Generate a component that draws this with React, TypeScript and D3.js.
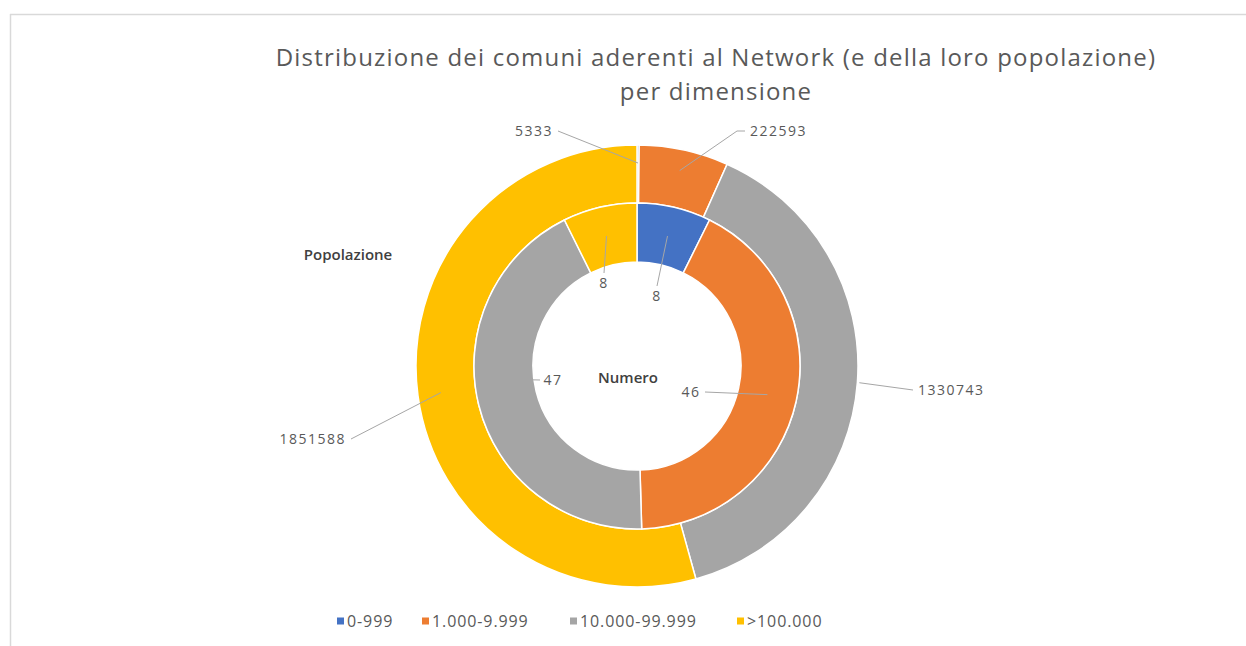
import React from 'react';
import * as d3 from 'd3';

// ---- data ----
const categories = ['0-999', '1.000-9.999', '10.000-99.999', '>100.000'];
const numeroValues = [8, 46, 47, 8];
const popolazioneValues = [5333, 222593, 1330743, 1851588];
const seriesColors = ['#4472C4', '#ED7D31', '#A5A5A5', '#FFC000'];
const titleLines = [
  'Distribuzione dei comuni aderenti al Network (e della loro popolazione)',
  'per dimensione',
];
const ringNames = ['Popolazione', 'Numero'];

// ---- layout (not data) ----
const W = 1246;
const H = 646;
const CX = 637;
const CY = 366;
const R_OUT = 221;
const R_MID = 163;
const R_IN = 104;

type LabelLayout = { lx: number; ly: number; anchor: string; endR: number; endAngleDeg?: number; elbow?: number };
const outerLabelLayout: LabelLayout[] = [
  { lx: -84, ly: -235, anchor: 'end', endR: 203 },
  { lx: 113, ly: -235, anchor: 'start', endR: 200, elbow: -8 },
  { lx: 281, ly: 24, anchor: 'start', endR: 223 },
  { lx: -291, ly: 73, anchor: 'end', endR: 198 },
];
const innerLabelLayout: LabelLayout[] = [
  { lx: 20, ly: -70, anchor: 'middle', endR: 133.5 },
  { lx: 54, ly: 26, anchor: 'middle', endR: 133.5 },
  { lx: -84, ly: 14, anchor: 'middle', endR: 106, endAngleDeg: 262.5 },
  { lx: -33, ly: -83, anchor: 'middle', endR: 133.5 },
];

function ring(values: number[], inner: number, outer: number, layout: LabelLayout[]) {
  const pie = d3.pie<number>().sort(null).value((d) => d);
  const arcs = pie(values);
  const arcGen = d3.arc<d3.PieArcDatum<number>>().innerRadius(inner).outerRadius(outer);
  return arcs.map((a, i) => {
    const L = layout[i];
    const mid = L.endAngleDeg !== undefined ? (L.endAngleDeg * Math.PI) / 180 : (a.startAngle + a.endAngle) / 2;
    const ex = L.endR * Math.sin(mid);
    const ey = -L.endR * Math.cos(mid);
    return { a, i, path: arcGen(a) as string, L, ex, ey };
  });
}

export default function App() {
  const outer = ring(popolazioneValues, R_MID, R_OUT, outerLabelLayout);
  const inner = ring(numeroValues, R_IN, R_MID, innerLabelLayout);
  const labelFont = '"Open Sans", sans-serif';

  const renderLabels = (items: ReturnType<typeof ring>, values: number[]) =>
    items.map(({ i, L, ex, ey }) => {
      const text = String(values[i]);
      let sx = L.lx;
      let sy = L.ly;
      let pts: [number, number][] = [];
      if (L.anchor === 'end') {
        sx = L.lx + 5;
        pts = [[sx, sy], [ex, ey]];
      } else if (L.anchor === 'start') {
        sx = L.lx - 5;
        pts = L.elbow ? [[sx, sy], [sx + L.elbow, sy], [ex, ey]] : [[sx, sy], [ex, ey]];
      } else {
        const dx = ex - L.lx;
        const dy = ey - L.ly;
        if (Math.abs(dy) > Math.abs(dx)) {
          sy = L.ly + (dy > 0 ? 9 : -10);
          pts = [[L.lx, sy], [ex, ey]];
        } else {
          sx = L.lx + (dx > 0 ? 14 : -13);
          pts = [[sx, L.ly], [ex, ey]];
        }
      }
      const line = d3.line()(pts) as string;
      return (
        <g key={i}>
          <path d={line} fill="none" stroke="#a6a6a6" strokeWidth={1} />
          <text
            x={L.lx}
            y={L.ly}
            dy="0.35em"
            textAnchor={L.anchor}
            fontFamily={labelFont}
            fontSize={14}
            fill="#595959"
            letterSpacing={1.5}
          >
            {text}
          </text>
        </g>
      );
    });

  const legendX = [337, 422, 570, 737];

  return (
    <div style={{ position: 'absolute', left: 0, top: 0, width: W, height: H, background: '#fff' }}>
      <svg width={W} height={H} style={{ display: 'block' }}>
        <rect x={0} y={0} width={W} height={H} fill="#ffffff" />
        <line x1={10} y1={14.5} x2={W} y2={14.5} stroke="#d9d9d9" strokeWidth={1.5} />
        <line x1={10.5} y1={14} x2={10.5} y2={H} stroke="#d9d9d9" strokeWidth={1.5} />
        <text x={716} y={66} textAnchor="middle" fontFamily={labelFont} fontSize={24} letterSpacing={1.2} fill="#595959">
          {titleLines[0]}
        </text>
        <text x={716} y={100} textAnchor="middle" fontFamily={labelFont} fontSize={24} letterSpacing={1.2} fill="#595959">
          {titleLines[1]}
        </text>
        <g transform={`translate(${CX},${CY})`}>
          {outer.map(({ i, path }) => (
            <path key={'o' + i} d={path} fill={seriesColors[i]} stroke="#ffffff" strokeWidth={1.5} />
          ))}
          {inner.map(({ i, path }) => (
            <path key={'n' + i} d={path} fill={seriesColors[i]} stroke="#ffffff" strokeWidth={1.5} />
          ))}
          {renderLabels(outer, popolazioneValues)}
          {renderLabels(inner, numeroValues)}
          <text x={-9} y={12} dy="0.35em" textAnchor="middle" fontFamily={labelFont} fontSize={15} fontWeight={600} fill="#404040">
            {ringNames[1]}
          </text>
        </g>
        <text x={348} y={255} dy="0.35em" textAnchor="middle" fontFamily={labelFont} fontSize={15} fontWeight={600} fill="#404040">
          {ringNames[0]}
        </text>
        {categories.map((c, i) => (
          <g key={c} transform={`translate(${legendX[i]},621)`}>
            <rect x={0} y={-3.5} width={7} height={7} fill={seriesColors[i]} />
            <text x={10} y={0} dy="0.35em" fontFamily={labelFont} fontSize={16} letterSpacing={0.9} fill="#595959">
              {c}
            </text>
          </g>
        ))}
      </svg>
    </div>
  );
}
